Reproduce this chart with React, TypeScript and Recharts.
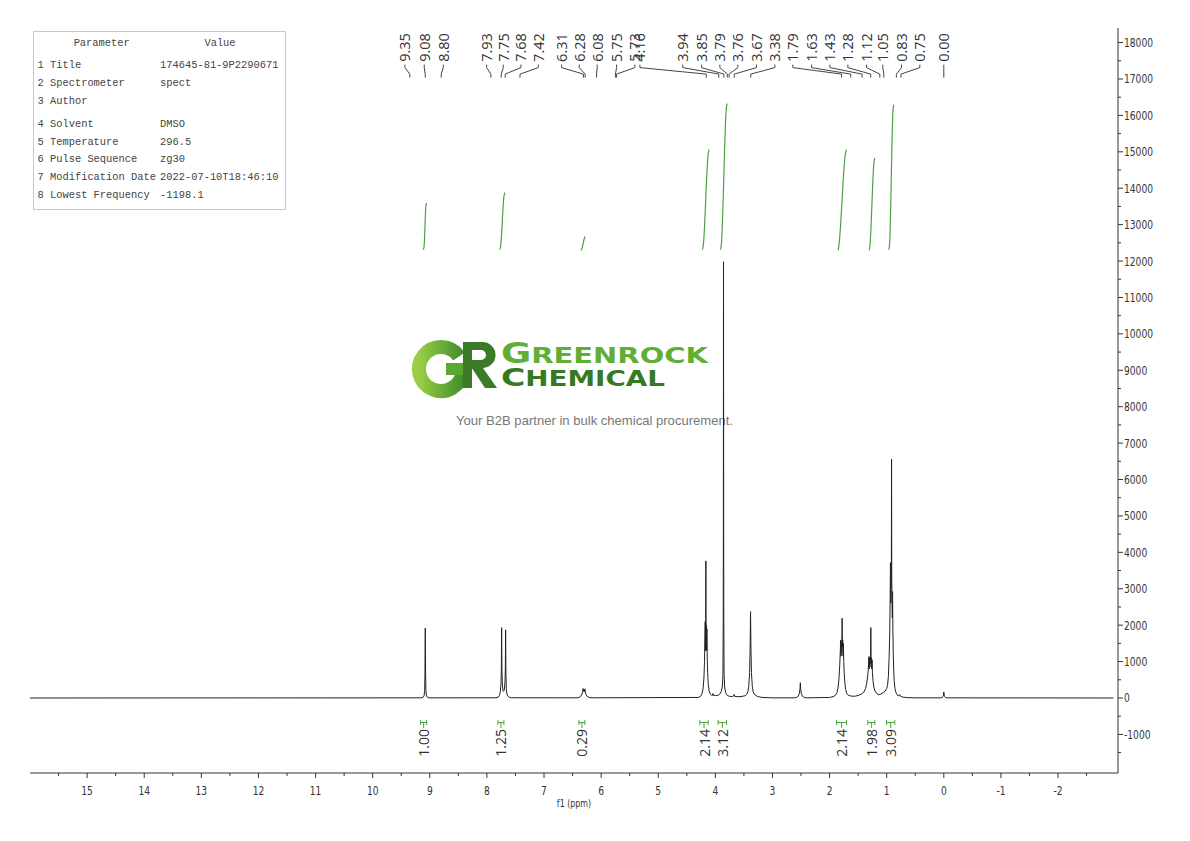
import React from "react";
import { ComposedChart, Line, Scatter, XAxis, YAxis } from "recharts";

const W = 1190;
const H = 841;

// axis ranges (ppm axis runs right-to-left)
const ppmRange: [number, number] = [-3.05, 16];
const intensityRange: [number, number] = [-2060, 18400];

const xMajorTicks = [15, 14, 13, 12, 11, 10, 9, 8, 7, 6, 5, 4, 3, 2, 1, 0, -1, -2];
const xMinorTicks = [15.5, 14.5, 13.5, 12.5, 11.5, 10.5, 9.5, 8.5, 7.5, 6.5, 5.5, 4.5, 3.5, 2.5, 1.5, 0.5, -0.5, -1.5, -2.5];
const yMajorTicks = [-1000, 0, 1000, 2000, 3000, 4000, 5000, 6000, 7000, 8000, 9000, 10000, 11000, 12000, 13000, 14000, 15000, 16000, 17000, 18000];
const yMinorTicks = [-1500, -500, 500, 1500, 2500, 3500, 4500, 5500, 6500, 7500, 8500, 9500, 10500, 11500, 12500, 13500, 14500, 15500, 16500, 17500];

// 1H spectrum trace, [ppm, intensity]
const spectrum: [number, number][] = [
  [16.0, 0],
  [9.16, 4], [9.12, 15], [9.1, 57], [9.09, 210], [9.085, 630], [9.079, 1920], [9.073, 630], [9.068, 210], [9.058, 57], [9.038, 15], [9.0, 4],
  [7.84, 6], [7.8, 25], [7.78, 70], [7.765, 170], [7.752, 420], [7.747, 800], [7.742, 1930], [7.737, 800], [7.73, 380], [7.718, 200], [7.707, 180], [7.695, 230], [7.684, 430], [7.677, 800], [7.672, 1870], [7.667, 700], [7.66, 260], [7.65, 110], [7.635, 55], [7.61, 20], [7.57, 6],
  [6.42, 5], [6.38, 20], [6.355, 50], [6.335, 110], [6.322, 180], [6.316, 260], [6.31, 190], [6.303, 230], [6.297, 170], [6.29, 215], [6.283, 250], [6.277, 160], [6.265, 90], [6.245, 45], [6.21, 15], [6.16, 5],
  [4.3, 15], [4.26, 45], [4.235, 110], [4.215, 250], [4.2, 550], [4.19, 1000], [4.183, 1700], [4.178, 2097], [4.174, 1300], [4.17, 2000], [4.166, 3765], [4.162, 1500], [4.158, 2006], [4.153, 1300], [4.148, 1900], [4.142, 1100], [4.135, 700], [4.125, 400], [4.11, 200], [4.09, 110], [4.065, 70], [4.047, 75], [4.041, 125], [4.035, 75], [4.0, 65],
  [3.95, 75], [3.92, 110], [3.895, 180], [3.877, 330], [3.867, 650], [3.862, 2160], [3.8595, 5000], [3.857, 11980], [3.8545, 5000], [3.852, 2160], [3.847, 650], [3.837, 300], [3.82, 150], [3.8, 90], [3.78, 60],
  [3.75, 45], [3.7, 40], [3.68, 55], [3.673, 100], [3.666, 50], [3.62, 35], [3.55, 40], [3.48, 60], [3.45, 100], [3.43, 170], [3.415, 320], [3.4, 700], [3.392, 1300], [3.384, 2372], [3.376, 1300], [3.368, 700], [3.353, 320], [3.338, 170], [3.31, 90], [3.26, 40], [3.18, 15], [3.0, 4],
  [2.62, 4], [2.58, 15], [2.55, 45], [2.53, 120], [2.518, 250], [2.512, 421], [2.506, 250], [2.494, 120], [2.474, 45], [2.444, 15], [2.4, 4],
  [2.0, 15], [1.94, 35], [1.9, 70], [1.87, 150], [1.85, 300], [1.835, 550], [1.822, 900], [1.812, 1300], [1.806, 1594], [1.8, 1150], [1.794, 1560], [1.788, 1250], [1.784, 1594], [1.78, 2190], [1.776, 1400], [1.77, 1594], [1.764, 1150], [1.758, 1500], [1.752, 1000], [1.744, 700], [1.733, 420], [1.718, 230], [1.7, 130], [1.67, 75], [1.62, 50], [1.55, 50], [1.5, 70],
  [1.45, 100], [1.4, 160], [1.37, 260], [1.35, 400], [1.333, 600], [1.32, 850], [1.312, 1135], [1.306, 800], [1.3, 1100], [1.294, 850], [1.288, 1135], [1.283, 950], [1.278, 1933], [1.273, 1000], [1.268, 1100], [1.262, 800], [1.256, 1050], [1.25, 700], [1.24, 480], [1.225, 300], [1.205, 190], [1.18, 130], [1.14, 90], [1.1, 110], [1.06, 150],
  [1.03, 180], [1.0, 260], [0.985, 350], [0.97, 600], [0.958, 1090], [0.948, 1700], [0.94, 2600], [0.934, 3718], [0.929, 2600], [0.924, 3000], [0.919, 3200], [0.915, 6560], [0.911, 3300], [0.906, 2600], [0.901, 2200], [0.897, 2921], [0.892, 1900], [0.886, 1300], [0.878, 800], [0.868, 450], [0.855, 260], [0.838, 150], [0.82, 90], [0.8, 60], [0.78, 70], [0.772, 95], [0.765, 55], [0.72, 25], [0.65, 10], [0.5, 4],
  [0.06, 4], [0.03, 12], [0.015, 35], [0.007, 80], [0.0, 165], [-0.007, 80], [-0.015, 35], [-0.03, 12], [-0.06, 4],
  [-2.97, 0],
];

// peak picking labels and where each label sits (ppm slot along the top)
const peakLabels = ["9.35", "9.08", "8.80", "7.93", "7.75", "7.68", "7.42", "6.31", "6.28", "6.08", "5.75", "5.73", "4.16", "3.94", "3.85", "3.79", "3.76", "3.67", "3.38", "1.79", "1.63", "1.43", "1.28", "1.12", "1.05", "0.83", "0.75", "0.00"];
const peakLabelSlots = [9.435, 9.097, 8.764, 8.005, 7.714, 7.404, 7.101, 6.692, 6.384, 6.069, 5.729, 5.409, 5.321, 4.571, 4.241, 3.921, 3.606, 3.279, 2.958, 2.643, 2.316, 1.995, 1.68, 1.353, 1.068, 0.74, 0.42, 0.0];

// integrals
const integralValues = ["1.00", "1.25", "0.29", "2.14", "3.12", "2.14", "1.98", "3.09"];
const integralRanges: [number, number][] = [
  [9.16, 9.055], [7.807, 7.702], [6.389, 6.284], [4.271, 4.126], [3.951, 3.804], [1.878, 1.703], [1.33, 1.208], [1.003, 0.858],
];
const integralCurves: [number, number][][] = [
  [[9.114, 12311], [9.1, 12400], [9.068, 13520], [9.055, 13593]],
  [[7.772, 12311], [7.76, 12400], [7.7, 13800], [7.684, 13885]],
  [[6.354, 12292], [6.34, 12330], [6.29, 12640], [6.279, 12677]],
  [[4.224, 12311], [4.21, 12450], [4.125, 14950], [4.108, 15059]],
  [[3.909, 12311], [3.895, 12450], [3.808, 16200], [3.793, 16323]],
  [[1.85, 12292], [1.835, 12450], [1.722, 14950], [1.703, 15059]],
  [[1.308, 12292], [1.295, 12400], [1.222, 14720], [1.208, 14831]],
  [[0.963, 12311], [0.95, 12450], [0.888, 16180], [0.875, 16296]],
];

const paramRows = [
  ["1 Title", "174645-81-9P2290671"],
  ["2 Spectrometer", "spect"],
  ["3 Author", ""],
  ["4 Solvent", "DMSO"],
  ["5 Temperature", "296.5"],
  ["6 Pulse Sequence", "zg30"],
  ["7 Modification Date", "2022-07-10T18:46:10"],
  ["8 Lowest Frequency", "-1198.1"],
];
const paramRowY = [65, 83, 101, 123.5, 141.5, 159, 177, 195];

const labelFont = "'Open Sans', 'Noto Sans', sans-serif";
const axisFont = "'DejaVu Sans Condensed', 'DejaVu Sans', sans-serif";
const tableFont = "'Liberation Mono', 'DejaVu Sans Mono', monospace";
const GREEN = "#4aa23f";

const spectrumData = spectrum.map(([x, y]) => ({ x, y }));

const leaderData = peakLabels.flatMap((s, i) => {
  const p = parseFloat(s);
  const slot = peakLabelSlots[i];
  return [
    { x: slot, y: 17395 },
    { x: slot, y: 17312 },
    { x: p, y: 17134 },
    { x: p, y: 17038 },
    { x: p, y: null },
  ];
});
const peakLabelData = peakLabels.map((s, i) => ({ x: peakLabelSlots[i], y: 17470, text: s }));

const integralCurveData = integralCurves.flatMap((c) => [...c.map(([x, y]) => ({ x, y })), { x: c[c.length - 1][0], y: null }]);

const bracketData = integralRanges.flatMap(([a, b]) => {
  const m = (a + b) / 2;
  return [
    { x: a, y: -605 }, { x: a, y: -742 }, { x: a, y: null },
    { x: b, y: -605 }, { x: b, y: -742 }, { x: b, y: null },
    { x: a, y: -673 }, { x: b, y: -673 }, { x: b, y: null },
    { x: m, y: -673 }, { x: m, y: -824 }, { x: m, y: null },
  ];
});
const integralLabelData = integralRanges.map(([a, b], i) => ({ x: (a + b) / 2, y: -850, text: integralValues[i] }));

function XTick(props: any) {
  const { x, y, payload } = props;
  const major = Number.isInteger(payload.value);
  return (
    <g>
      <line x1={x} x2={x} y1={y} y2={y + (major ? 5 : 3)} stroke="#333" />
      {major && (
        <g transform={`translate(${x},${y + 18}) scale(0.78,1)`}>
          <text textAnchor="middle" dominantBaseline="central" fontSize={13} fontFamily={axisFont} fill="#333">
            {payload.value}
          </text>
        </g>
      )}
    </g>
  );
}

function YTick(props: any) {
  const { x, y, payload } = props;
  const major = payload.value % 1000 === 0;
  return (
    <g>
      <line x1={x} x2={x + (major ? 5 : 3)} y1={y} y2={y} stroke="#333" />
      {major && (
        <g transform={`translate(${x + 6},${y}) scale(0.78,1)`}>
          <text textAnchor="start" dominantBaseline="central" fontSize={13} fontFamily={axisFont} fill="#333">
            {payload.value}
          </text>
        </g>
      )}
    </g>
  );
}

function PeakLabel(props: any) {
  const { cx, cy, payload } = props;
  return (
    <text x={cx} y={cy} transform={`rotate(-90 ${cx} ${cy})`} textAnchor="start" dominantBaseline="central" fontSize={14.5} fontFamily={labelFont} fill="#333">
      {payload.text}
    </text>
  );
}

function IntegralLabel(props: any) {
  const { cx, cy, payload } = props;
  return (
    <text x={cx} y={cy} transform={`rotate(-90 ${cx} ${cy})`} textAnchor="end" dominantBaseline="central" fontSize={14} fontFamily={labelFont} fill="#333">
      {payload.text}
    </text>
  );
}

function Backdrop() {
  return (
    <svg width={W} height={H} style={{ position: "absolute", left: 0, top: 0 }}>
      <defs>
        <linearGradient id="gLogo" x1="0" y1="0" x2="1" y2="0">
          <stop offset="0" stopColor="#9acd45" />
          <stop offset="1" stopColor="#3f8f2c" />
        </linearGradient>
      </defs>
      {/* parameter table */}
      <rect x={33.5} y={31.5} width={252} height={178} fill="#fff" stroke="#c8c8c8" />
      <g fontFamily={tableFont} fontSize={10.4} fill="#444">
        <text x={101.7} y={43} textAnchor="middle" dominantBaseline="central">Parameter</text>
        <text x={220} y={43} textAnchor="middle" dominantBaseline="central">Value</text>
        {paramRows.map(([k, v], i) => (
          <g key={k}>
            <text x={37.5} y={paramRowY[i]} dominantBaseline="central">{k}</text>
            <text x={160} y={paramRowY[i]} dominantBaseline="central">{v}</text>
          </g>
        ))}
      </g>
      {/* watermark logo mark: G ring + R glyph drawn as shapes */}
      <path d="M 459 356.4 A 22 22 0 1 0 462.9 370.9" fill="none" stroke="url(#gLogo)" strokeWidth={14} />
      <rect x={446} y={363} width={20} height={12} fill="#5aa834" />
      <path
        d="M463 342 H482 A13 13 0 0 1 483 368 L497 388 H485 L472.5 369 H472 V388 H463 Z M472 350 V360 H481 A5 5 0 0 0 481 350 Z"
        fill="#3b7a26"
        fillRule="evenodd"
      />
      <text x={501} y={363} fontWeight="bold" fontFamily="'DejaVu Sans', sans-serif" fill="#5fae35" textLength={207} lengthAdjust="spacingAndGlyphs">
        <tspan fontSize={28}>G</tspan>
        <tspan fontSize={22}>REENROCK</tspan>
      </text>
      <text x={501} y={386} fontWeight="bold" fontFamily="'DejaVu Sans', sans-serif" fill="#357a22" textLength={164} lengthAdjust="spacingAndGlyphs">
        <tspan fontSize={25}>C</tspan>
        <tspan fontSize={21}>HEMICAL</tspan>
      </text>
      <text x={456} y={425} fontSize={13} fontFamily="'Liberation Sans', Arial, sans-serif" fill="#777" textLength={277} lengthAdjust="spacingAndGlyphs">
        Your B2B partner in bulk chemical procurement.
      </text>
      {/* axis title */}
      <g transform="translate(574,803) scale(0.8,1)">
        <text textAnchor="middle" dominantBaseline="central" fontSize={11} fontFamily={axisFont} fill="#333">f1 (ppm)</text>
      </g>
    </svg>
  );
}

export default function App() {
  return (
    <div style={{ position: "absolute", left: 0, top: 0, width: W, height: H, background: "#fff" }}>
      <Backdrop />
      <div style={{ position: "absolute", left: 0, top: 0 }}>
        <ComposedChart width={W} height={H} margin={{ top: 28, right: 12, bottom: 28, left: 30 }}>
          <XAxis
            type="number"
            dataKey="x"
            domain={ppmRange}
            reversed
            allowDataOverflow
            ticks={[...xMajorTicks, ...xMinorTicks]}
            interval={0}
            tickSize={0}
            tickMargin={0}
            tickLine={false}
            tick={<XTick />}
            axisLine={{ stroke: "#333" }}
            height={40}
          />
          <YAxis
            type="number"
            dataKey="y"
            orientation="right"
            domain={intensityRange}
            allowDataOverflow
            ticks={[...yMajorTicks, ...yMinorTicks]}
            interval={0}
            tickSize={0}
            tickMargin={0}
            tickLine={false}
            tick={<YTick />}
            axisLine={{ stroke: "#333" }}
            width={60}
          />
          <Line data={spectrumData} dataKey="y" type="linear" stroke="#222" strokeWidth={1} dot={false} isAnimationActive={false} />
          <Line data={integralCurveData} dataKey="y" type="monotone" stroke={GREEN} strokeWidth={1.2} dot={false} connectNulls={false} isAnimationActive={false} />
          <Line data={bracketData} dataKey="y" type="linear" stroke={GREEN} strokeWidth={1} dot={false} connectNulls={false} isAnimationActive={false} />
          <Line data={leaderData} dataKey="y" type="linear" stroke="#444" strokeWidth={1} dot={false} connectNulls={false} isAnimationActive={false} />
          <Scatter data={peakLabelData} dataKey="y" shape={(p: any) => <PeakLabel {...p} />} isAnimationActive={false} />
          <Scatter data={integralLabelData} dataKey="y" shape={(p: any) => <IntegralLabel {...p} />} isAnimationActive={false} />
        </ComposedChart>
      </div>
    </div>
  );
}
